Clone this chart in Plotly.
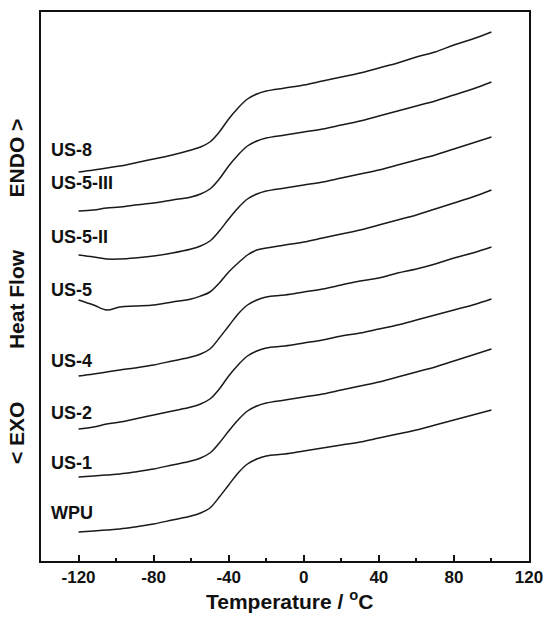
import plotly.graph_objects as go

# Temperature grid (°C)
temps = [-120, -112, -105, -98, -90, -80, -70, -60, -55, -50, -45, -40, -35, -30, -25, -20,
         -10, 0, 10, 20, 30, 40, 50, 60, 70, 80, 90, 100]

# Heat flow (arbitrary units, curves stacked as in the figure)
us8    = [38.9, 39.1, 39.3, 39.5, 39.8, 40.2, 40.6, 41.1, 41.4, 41.9, 42.9, 44.2, 45.3, 46.2, 46.7, 47.0,
          47.3, 47.6, 48.0, 48.4, 48.8, 49.3, 49.8, 50.4, 50.9, 51.6, 52.2, 52.9]
us5iii = [35.0, 35.1, 35.3, 35.4, 35.6, 35.8, 36.1, 36.4, 36.7, 37.2, 38.2, 39.5, 40.6, 41.5, 42.0, 42.3,
          42.6, 42.9, 43.2, 43.6, 44.0, 44.5, 45.0, 45.5, 46.0, 46.6, 47.2, 47.9]
us5ii  = [30.6, 30.4, 30.2, 30.2, 30.3, 30.5, 30.8, 31.2, 31.5, 32.0, 33.0, 34.2, 35.3, 36.2, 36.7, 37.0,
          37.3, 37.6, 37.9, 38.3, 38.7, 39.1, 39.6, 40.1, 40.6, 41.2, 41.8, 42.4]
us5    = [26.1, 25.6, 25.1, 25.4, 25.5, 25.6, 25.9, 26.2, 26.5, 26.9, 27.8, 28.9, 29.8, 30.6, 31.1, 31.3,
          31.6, 31.9, 32.3, 32.7, 33.1, 33.6, 34.1, 34.6, 35.2, 35.8, 36.4, 37.1]
us4    = [18.5, 18.7, 18.9, 19.1, 19.3, 19.6, 20.0, 20.4, 20.7, 21.2, 22.3, 23.5, 24.7, 25.6, 26.1, 26.4,
          26.6, 26.9, 27.2, 27.6, 28.0, 28.3, 28.8, 29.2, 29.7, 30.3, 30.8, 31.4]
us2    = [13.2, 13.4, 13.7, 13.9, 14.2, 14.6, 15.0, 15.4, 15.7, 16.2, 17.2, 18.5, 19.6, 20.5, 21.0, 21.3,
          21.5, 21.8, 22.1, 22.5, 22.8, 23.2, 23.6, 24.1, 24.6, 25.1, 25.6, 26.2]
us1    = [8.4, 8.5, 8.6, 8.7, 8.9, 9.2, 9.6, 10.0, 10.3, 10.8, 11.8, 13.0, 14.1, 15.0, 15.5, 15.8,
          16.1, 16.4, 16.7, 17.1, 17.5, 17.9, 18.4, 18.9, 19.4, 20.0, 20.6, 21.2]
wpu    = [2.9, 3.0, 3.1, 3.2, 3.4, 3.7, 4.1, 4.5, 4.8, 5.3, 6.4, 7.6, 8.8, 9.7, 10.2, 10.5,
          10.7, 11.0, 11.3, 11.6, 11.9, 12.3, 12.7, 13.1, 13.6, 14.1, 14.6, 15.1]

names = ["US-8", "US-5-III", "US-5-II", "US-5", "US-4", "US-2", "US-1", "WPU"]
series = [us8, us5iii, us5ii, us5, us4, us2, us1, wpu]
label_y = [41.1, 37.8, 32.4, 27.1, 20.0, 14.8, 9.8, 4.8]

x_ticks = [-120, -80, -40, 0, 40, 80, 120]
x_minor = [-100, -60, -20, 20, 60, 100]

fig = go.Figure()
for name, vals in zip(names, series):
    fig.add_trace(go.Scatter(x=temps, y=vals, mode="lines", name=name,
                             line=dict(color="#1a1a1a", width=1.5, shape="spline", smoothing=1.0),
                             showlegend=False, hoverinfo="skip"))

font_fam = "Liberation Sans, Arial, sans-serif"
for name, ly in zip(names, label_y):
    fig.add_annotation(x=-135.5, y=ly, xref="x", yref="y", text=name, showarrow=False,
                       xanchor="left", yanchor="middle",
                       font=dict(family=font_fam, size=18, color="#111", weight="bold"))

gap = "\u00a0" * 9
fig.add_annotation(x=-0.049, y=0.49, xref="paper", yref="paper", textangle=-90,
                   text="&lt; EXO" + gap + "Heat Flow" + gap + "ENDO &gt;",
                   showarrow=False, xanchor="center", yanchor="middle",
                   font=dict(family=font_fam, size=21, color="#111", weight="bold"))

fig.add_annotation(x=0.51, y=-0.099, xref="paper", yref="paper",
                   text="Temperature / <sup>o</sup>C",
                   showarrow=False, xanchor="center", yanchor="bottom",
                   font=dict(family=font_fam, size=21, color="#111", weight="bold"))

fig.update_layout(
    width=547, height=617,
    margin=dict(l=41, r=18, t=12, b=56),
    paper_bgcolor="white", plot_bgcolor="white",
    font=dict(family=font_fam, color="#111"),
    xaxis=dict(range=[-140, 120], tickvals=x_ticks, ticktext=[str(v) for v in x_ticks],
               ticks="inside", ticklen=6, tickwidth=2, tickcolor="#111",
               minor=dict(tickvals=x_minor, ticks="inside", ticklen=3, tickwidth=2, tickcolor="#111"),
               showline=True, linewidth=2, linecolor="#111", mirror=True,
               showgrid=False, zeroline=False, automargin=False,
               tickfont=dict(family=font_fam, size=17, color="#111", weight="bold")),
    yaxis=dict(range=[0, 54.9], showticklabels=False, ticks="",
               showline=True, linewidth=2, linecolor="#111", mirror=True,
               showgrid=False, zeroline=False, automargin=False),
)

fig.write_html("out.html")
